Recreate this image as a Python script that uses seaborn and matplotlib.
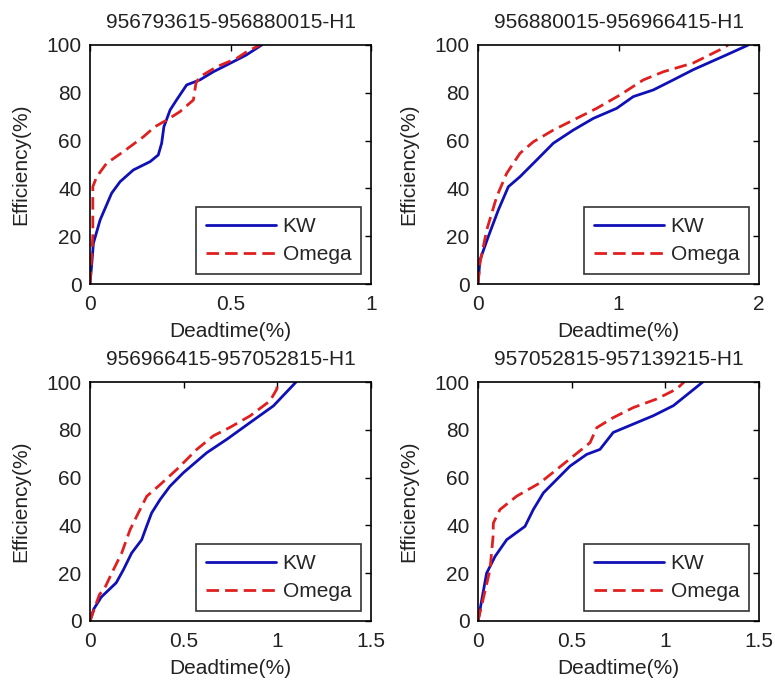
import matplotlib
matplotlib.use("Agg")
import matplotlib.pyplot as plt
import seaborn as sns
import pandas as pd

# ---- data ----
titles = ["956793615-956880015-H1", "956880015-956966415-H1",
          "956966415-957052815-H1", "957052815-957139215-H1"]
xlims = [1, 2, 1.5, 1.5]
xticks = [[0, 0.5, 1], [0, 1, 2], [0, 0.5, 1, 1.5], [0, 0.5, 1, 1.5]]
yticks = [0, 20, 40, 60, 80, 100]

kw1_x = [0, 0.006, 0.012, 0.036, 0.077, 0.107, 0.154, 0.214, 0.243, 0.255, 0.263, 0.285, 0.308, 0.344, 0.391, 0.439, 0.498, 0.556, 0.611]
kw1_y = [0, 8, 17, 26.8, 38, 42.8, 47.7, 51.2, 54, 58.9, 65.8, 72.8, 77, 83.3, 85.4, 88.8, 92.3, 95.8, 100]
om1_x = [0, 0.01, 0.01, 0.024, 0.059, 0.119, 0.19, 0.231, 0.273, 0.32, 0.368, 0.377, 0.391, 0.451, 0.522, 0.558, 0.605]
om1_y = [0, 20, 40.7, 44.9, 50.5, 55.4, 61.6, 65.8, 68.6, 72.1, 77, 84, 86.7, 90.9, 94.4, 97.2, 100]

kw2_x = [0, 0.014, 0.073, 0.145, 0.216, 0.299, 0.418, 0.536, 0.678, 0.821, 0.987, 1.105, 1.248, 1.39, 1.533, 1.77, 1.924]
kw2_y = [0, 10, 19.8, 31, 40.7, 44.9, 51.9, 58.9, 64.4, 69.3, 73.5, 78.4, 81.2, 85.4, 89.7, 95.9, 100]
om2_x = [0, 0.014, 0.062, 0.133, 0.204, 0.299, 0.394, 0.536, 0.702, 0.845, 1.011, 1.177, 1.319, 1.533, 1.746, 1.78]
om2_y = [0, 8.8, 22.6, 36.5, 46.3, 54.7, 59.5, 64.4, 69.3, 73.5, 79.1, 85.4, 88.8, 92.5, 98.7, 100]

kw3_x = [0, 0.02, 0.06, 0.14, 0.178, 0.222, 0.276, 0.302, 0.329, 0.374, 0.427, 0.498, 0.623, 0.73, 0.854, 0.979, 1.1]
kw3_y = [0, 5, 10, 16, 21.4, 28.4, 34, 39.6, 45.2, 50.8, 56.4, 62, 70.4, 76, 83, 90, 100]
om3_x = [0, 0.05, 0.08, 0.116, 0.169, 0.214, 0.258, 0.303, 0.365, 0.463, 0.57, 0.659, 0.747, 0.854, 0.961, 0.997, 1.0]
om3_y = [0, 11, 14, 20, 28.4, 38.2, 45.2, 52.2, 56.4, 63.4, 71.8, 77.5, 81, 85.8, 92.1, 97, 100]

kw4_x = [0, 0.02, 0.046, 0.091, 0.153, 0.251, 0.295, 0.349, 0.42, 0.491, 0.58, 0.651, 0.722, 0.829, 0.936, 1.043, 1.132, 1.2]
kw4_y = [0, 8.8, 20, 27, 34, 39.6, 46.6, 53.6, 59.2, 64.8, 69.7, 71.8, 78.9, 82.4, 85.9, 90.1, 95.7, 100]
om4_x = [0, 0.03, 0.064, 0.08, 0.082, 0.117, 0.206, 0.331, 0.42, 0.509, 0.598, 0.634, 0.722, 0.829, 0.954, 1.061, 1.1]
om4_y = [0, 10, 21.4, 35, 41, 46.6, 52.2, 57.8, 63.4, 69, 74.6, 80.9, 85.1, 89.3, 92.9, 97.1, 100]

kw_x = [kw1_x, kw2_x, kw3_x, kw4_x]
kw_y = [kw1_y, kw2_y, kw3_y, kw4_y]
om_x = [om1_x, om2_x, om3_x, om4_x]
om_y = [om1_y, om2_y, om3_y, om4_y]

# ---- style ----
sns.set_theme(style="white")
plt.rcParams['font.family'] = ['Liberation Sans', 'DejaVu Sans']
plt.rcParams['font.size'] = 15
plt.rcParams['xtick.direction'] = 'in'
plt.rcParams['ytick.direction'] = 'in'

fig = plt.figure(figsize=(7.75, 6.81), dpi=100)
fig.patch.set_facecolor('white')

W = 281 / 775
H = 239 / 681
lefts = [90 / 775, 478 / 775]
bottoms = [1 - 284 / 681, 1 - 621 / 681]

blue = '#1010b8'
red = '#e02020'
txt = '#222222'

for i in range(4):
    r, c = divmod(i, 2)
    ax = fig.add_axes([lefts[c], bottoms[r], W, H])
    df_kw = pd.DataFrame({"x": kw_x[i], "y": kw_y[i]})
    df_om = pd.DataFrame({"x": om_x[i], "y": om_y[i]})
    sns.lineplot(data=df_kw, x="x", y="y", sort=False, ax=ax, color=blue,
                 lw=2, label="KW", estimator=None)
    sns.lineplot(data=df_om, x="x", y="y", sort=False, ax=ax, color=red,
                 lw=2, label="Omega", estimator=None, linestyle=(0, (4.5, 2.2)))
    ax.set_xlim(0, xlims[i])
    ax.set_ylim(0, 100)
    ax.set_xticks(xticks[i])
    ax.set_xticklabels([f"{t:g}" for t in xticks[i]])
    ax.set_yticks(yticks)
    ax.set_title(titles[i], fontsize=15, pad=12, color=txt)
    ax.set_xlabel("Deadtime(%)", fontsize=15, labelpad=6, color=txt)
    ax.set_ylabel("Efficiency(%)", fontsize=15, labelpad=12, color=txt)
    ax.tick_params(axis='both', which='both', length=4, width=1, color='black',
                   top=True, right=True, labelsize=15, labelcolor=txt)
    ax.tick_params(axis='x', pad=8)
    ax.tick_params(axis='y', pad=6)
    for sp in ax.spines.values():
        sp.set_color('black')
        sp.set_linewidth(1.2)
    leg = ax.legend(loc='lower right', fontsize=15, frameon=True, fancybox=False,
                    edgecolor='black', handlelength=3.4, handletextpad=0.3,
                    borderaxespad=0.5, borderpad=0.45, labelspacing=0.45)
    leg.get_frame().set_linewidth(1.2)

fig.savefig("out.png", dpi=100, facecolor='white')
